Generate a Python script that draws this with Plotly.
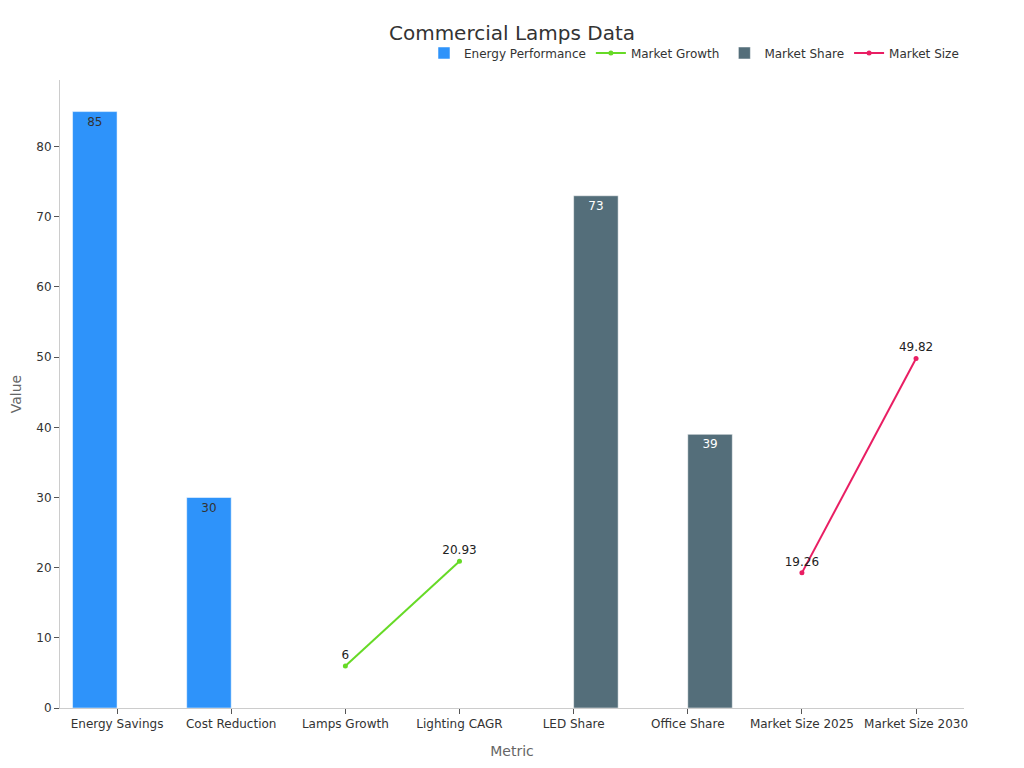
import plotly.graph_objects as go

# categories on the x axis
metrics = ["Energy Savings", "Cost Reduction", "Lamps Growth", "Lighting CAGR",
           "LED Share", "Office Share", "Market Size 2025", "Market Size 2030"]

# one list per series, None where the series has no value
energy_performance = [85, 30, None, None, None, None, None, None]
market_growth = [None, None, 6, 20.93, None, None, None, None]
market_share = [None, None, None, None, 73, 39, None, None]
market_size = [None, None, None, None, None, None, 19.26, 49.82]

FONT = "DejaVu Sans"


def labels(vals):
    return ["" if v is None else f"{v:g}" for v in vals]


fig = go.Figure()

fig.add_trace(go.Bar(
    x=metrics, y=energy_performance, name="Energy Performance",
    marker=dict(color="#2E93FA", line=dict(color="rgba(255,255,255,0.5)", width=1)),
    text=labels(energy_performance), textposition="inside",
    insidetextanchor="end", insidetextfont=dict(color="#333333", size=12),
))
fig.add_trace(go.Scatter(
    x=metrics, y=market_growth, name="Market Growth",
    mode="lines+markers+text", line=dict(color="#66DA26", width=2),
    marker=dict(size=5), text=labels(market_growth),
    textposition="top center", textfont=dict(color="#222222", size=12),
))
fig.add_trace(go.Bar(
    x=metrics, y=market_share, name="Market Share",
    marker=dict(color="#546E7A", line=dict(color="rgba(255,255,255,0.5)", width=1)),
    text=labels(market_share), textposition="inside",
    insidetextanchor="end", insidetextfont=dict(color="#ffffff", size=12),
))
fig.add_trace(go.Scatter(
    x=metrics, y=market_size, name="Market Size",
    mode="lines+markers+text", line=dict(color="#E91E63", width=2),
    marker=dict(size=5), text=labels(market_size),
    textposition="top center", textfont=dict(color="#222222", size=12),
))

# page has an 8px body margin, so margins are trimmed to land the plot area
fig.update_layout(
    template="plotly_white",
    font=dict(family=FONT, color="#333333", size=12),
    title=dict(text="Commercial Lamps Data", x=0.5, xanchor="center",
               y=0.967, yanchor="middle",
               font=dict(size=20, color="#333333")),
    barmode="group", bargap=0.22, bargroupgap=0,
    showlegend=True,
    legend=dict(orientation="h", x=1, xanchor="right", y=1.043, yanchor="middle",
                font=dict(size=12, color="#333333"), traceorder="normal"),
    margin=dict(l=52, r=52, t=72, b=52),
    plot_bgcolor="white", paper_bgcolor="white",
)

fig.update_xaxes(
    title=dict(text="Metric", font=dict(size=14, color="#666666")),
    range=[-0.5, 7.42], showgrid=False, showline=True, linecolor="#cccccc",
    ticks="outside", ticklen=5, tickcolor="#555555", zeroline=False,
    automargin=False,
)
fig.update_yaxes(
    title=dict(text="Value", font=dict(size=14, color="#666666")),
    range=[0, 89.5], dtick=10, showgrid=False, showline=True, linecolor="#cccccc",
    ticks="outside", ticklen=5, tickcolor="#555555", zeroline=False,
    automargin=False,
)

fig.write_html("out.html")
